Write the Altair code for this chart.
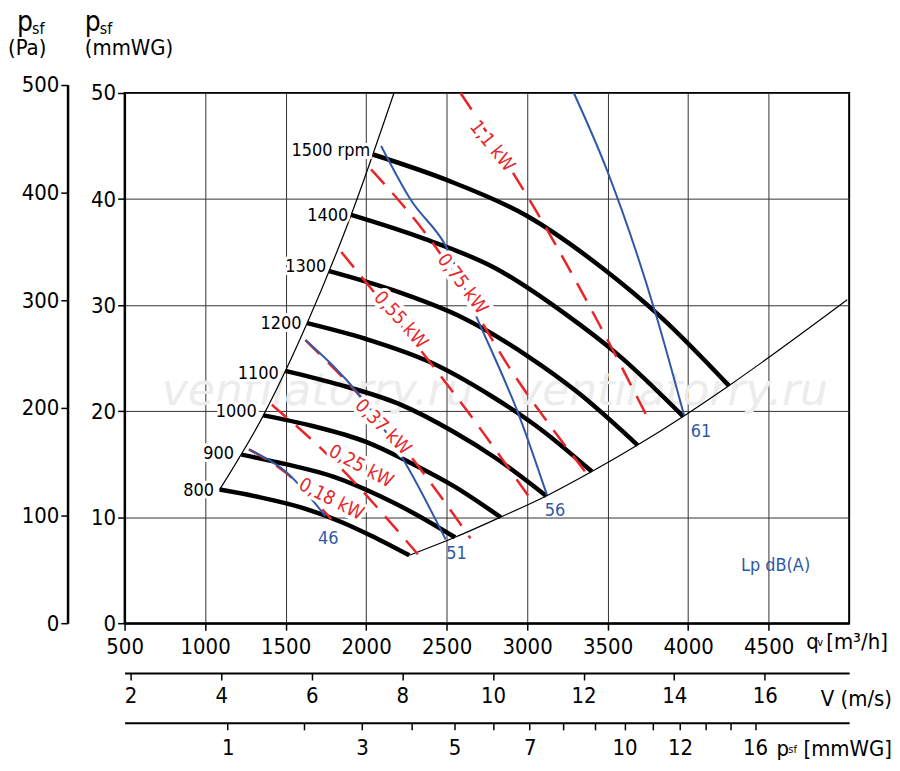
import altair as alt
import pandas as pd

FONT = "DejaVu Sans Condensed, Liberation Sans Narrow, sans-serif"
BLUE = "#2f58a8"
RED = "#e8262a"

# fan speed curves: flow q [m3/h] and static pressure p [mmWG]
rpm_labels = ["800", "900", "1000", "1100", "1200", "1300", "1400", "1500 rpm"]
rpm_q = [
    [1090, 1333, 1600, 1853, 2038, 2268],
    [1226, 1500, 1800, 2085, 2293, 2552],
    [1362, 1667, 2000, 2317, 2547, 2835],
    [1498, 1833, 2200, 2548, 2802, 3119],
    [1634, 2000, 2400, 2780, 3057, 3402],
    [1771, 2167, 2600, 3012, 3312, 3686],
    [1907, 2333, 2800, 3243, 3566, 3969],
    [2043, 2500, 3000, 3475, 3821, 4253],
]
rpm_p = [
    [12.6, 11.9, 10.9, 9.5, 8.2, 6.4],
    [15.9, 15.0, 13.8, 12.0, 10.4, 8.1],
    [19.6, 18.6, 17.1, 14.8, 12.9, 10.0],
    [23.8, 22.5, 20.7, 18.0, 15.6, 12.0],
    [28.3, 26.8, 24.6, 21.4, 18.6, 14.3],
    [33.2, 31.4, 28.8, 25.1, 21.8, 16.8],
    [38.5, 36.4, 33.5, 29.1, 25.3, 19.5],
    [44.2, 41.8, 38.4, 33.4, 29.0, 22.4],
]
rpm_label_q = [1056, 1179, 1321, 1457, 1599, 1753, 1889, 2025]
rpm_label_p = [12.5, 16.0, 19.9, 23.5, 28.2, 33.6, 38.4, 44.5]

# working range limits
left_q = [1090, 1362, 1634, 1907, 2173]
left_p = [12.6, 19.6, 28.3, 38.5, 50.0]
right_q = [2268, 2552, 2835, 3119, 3402, 3686, 3969, 4253, 4988]
right_p = [6.4, 8.1, 10.0, 12.0, 14.3, 16.8, 19.5, 22.4, 30.5]

# sound level lines Lp dB(A)
db_names = ["46", "51", "56", "61"]
db_q = [
    [1272, 1500, 1747],
    [1623, 1969, 2228, 2494],
    [2093, 2278, 2494, 2691, 2957, 3123],
    [3290, 3494, 3802, 3975],
]
db_p = [
    [16.4, 14.3, 10.1],
    [26.7, 21.3, 15.5, 7.9],
    [45.0, 39.9, 35.6, 28.7, 19.3, 12.1],
    [50.0, 42.8, 29.0, 19.6],
]
db_label_q = [1765, 2562, 3173, 4080]
db_label_p = [7.9, 6.5, 10.6, 18.0]

# motor power lines
kw_names = ["0,18 kW", "0,25 kW", "0,37 kW", "0,55 kW", "0,75 kW", "1,1 kW"]
kw_q = [
    [1272, 1500, 1784],
    [1414, 1753, 2321],
    [1623, 1969, 2278, 2648],
    [1846, 2648, 3031],
    [2031, 2426, 2920, 3370],
    [2586, 3000, 3451, 3741],
]
kw_p = [
    [16.4, 14.2, 9.8],
    [20.6, 16.0, 6.5],
    [26.7, 21.3, 15.7, 8.0],
    [35.0, 19.6, 11.5],
    [42.8, 35.6, 23.4, 14.1],
    [50.0, 40.3, 28.1, 19.6],
]
kw_label_q = [1784, 1969, 2105, 2216, 2599, 2784]
kw_label_p = [11.7, 14.8, 18.5, 28.6, 32.0, 45.0]
kw_label_angle = [27, 28, 45, 48, 53, 51]

q_ticks = [500, 1000, 1500, 2000, 2500, 3000, 3500, 4000, 4500]
mm_ticks = [0, 10, 20, 30, 40, 50]
pa_ticks = [0, 100, 200, 300, 400, 500]
v_ticks = [2, 4, 6, 8, 10, 12, 14, 16]
pd_ticks = [1, 2, 3, 4, 5, 6, 7, 8, 9, 10, 11, 12, 13, 14, 15]


def long(names, qs, ps):
    rows = []
    for n, qq, pp in zip(names, qs, ps):
        for i, (a, b) in enumerate(zip(qq, pp)):
            rows.append({"id": n, "q": a, "p": b, "i": i})
    return pd.DataFrame(rows)


xs = alt.Scale(domain=[500, 5000], nice=False)
ys = alt.Scale(domain=[0, 50], nice=False)
X = alt.X("q:Q", scale=xs, axis=alt.Axis(values=q_ticks, title=None, grid=True,
                                         labelPadding=6, format="d"))
Y = alt.Y("p:Q", scale=ys, axis=alt.Axis(values=mm_ticks, title=None, grid=True))


def lines(df, **kw):
    return alt.Chart(df).mark_line(**kw).encode(x=X, y=Y, detail="id:N", order="i:Q")


rpm = lines(long(rpm_labels, rpm_q, rpm_p), color="black", strokeWidth=4.5, interpolate="monotone")
bounds = lines(long(["l", "r"], [left_q, right_q], [left_p, right_p]),
               color="black", strokeWidth=1.2, interpolate="monotone")
db = lines(long(db_names, db_q, db_p), color=BLUE, strokeWidth=2, interpolate="monotone")
kw = lines(long(kw_names, kw_q, kw_p), color=RED, strokeWidth=2.5,
           strokeDash=[20, 12], interpolate="monotone")

rpm_df = pd.DataFrame({"t": rpm_labels, "q": rpm_label_q, "p": rpm_label_p})
rpm_txt_bg = alt.Chart(rpm_df).mark_text(align="right", fontSize=18, font=FONT, color="white",
                                         stroke="white", strokeWidth=6).encode(x=X, y=Y, text="t:N")
rpm_txt = alt.Chart(rpm_df).mark_text(align="right", fontSize=18, font=FONT,
                                      color="black").encode(x=X, y=Y, text="t:N")

db_df = pd.DataFrame({"t": db_names, "q": db_label_q, "p": db_label_p})
db_txt = alt.Chart(db_df).mark_text(fontSize=18, font=FONT, color=BLUE).encode(x=X, y=Y, text="t:N")

kw_df = pd.DataFrame({"t": kw_names, "q": kw_label_q, "p": kw_label_p, "a": kw_label_angle})
kw_bg = alt.Chart(kw_df).mark_text(fontSize=19, font=FONT, color="white", stroke="white",
                                   strokeWidth=7).encode(x=X, y=Y, text="t:N", angle=alt.Angle("a:Q", scale=None))
kw_txt = alt.Chart(kw_df).mark_text(fontSize=19, font=FONT, color=RED).encode(
    x=X, y=Y, text="t:N", angle=alt.Angle("a:Q", scale=None))

wm_df = pd.DataFrame({"t": ["ventilatorry.ru", "ventilatorry.ru"], "q": [1700, 3900], "p": [21.8, 21.8]})
wm = alt.Chart(wm_df).mark_text(fontSize=44, fontStyle="italic", font="DejaVu Sans",
                                color="#ececec").encode(x=X, y=Y, text="t:N")

lp = alt.Chart(pd.DataFrame({"t": ["Lp dB(A)"], "q": [4543], "p": [5.4]})).mark_text(
    fontSize=18, font=FONT, color=BLUE).encode(x=X, y=Y, text="t:N")


def label(t, x, y, size=22, align="left"):
    return alt.Chart(pd.DataFrame({"t": [t]})).mark_text(
        fontSize=size, font=FONT, align=align, baseline="alphabetic", color="black"
    ).encode(x=alt.value(x), y=alt.value(y), text="t:N")


titles = [
    label("p", -108, -62, 28), label("sf", -93, -59, 16), label("(Pa)", -117, -38, 22),
    label("p", -40, -62, 28), label("sf", -25, -59, 16), label("(mmWG)", -40, -38, 22),
    label("q", 684, 558, 22), label("v", 695, 555, 11), label("[m³/h]", 704, 558),
    label("V (m/s)", 770, 615, 22, "right"),
    label("p", 654, 665, 22), label("sf", 666, 662, 11), label("[mmWG]", 770, 665, 22, "right"),
]

# vertical line of the Pa axis
pa_line = alt.Chart(pd.DataFrame({"a": [0]})).mark_rule(color="black", strokeWidth=2).encode(
    x=alt.value(-57), y=alt.value(-8), y2=alt.value(532))

main = alt.layer(wm, bounds, rpm, kw, db, kw_bg, kw_txt, rpm_txt_bg, rpm_txt, db_txt, lp,
                 pa_line, *titles)

# secondary axes
v_q = [281.4 * v - 26 for v in v_ticks]
v_layer = alt.Chart(pd.DataFrame({"q": v_q})).mark_point(opacity=0).encode(
    x=alt.X("q:Q", scale=xs, axis=alt.Axis(
        orient="bottom", offset=50, values=v_q, title=None, grid=False, labelPadding=6,
        labelExpr="format(round((datum.value + 26) / 281.4), 'd')")))

pd_q = [1140 * t ** 0.5 for t in pd_ticks]
pd_layer = alt.Chart(pd.DataFrame({"q": pd_q})).mark_point(opacity=0).encode(
    x=alt.X("q:Q", scale=xs, axis=alt.Axis(
        orient="bottom", offset=100, values=pd_q, title=None, grid=False, labelPadding=8,
        labelExpr="round(pow(datum.value / 1140, 2)) == 15 ? '16' : "
                  "(indexof([1, 3, 5, 7, 10, 12], round(pow(datum.value / 1140, 2))) >= 0 ? "
                  "'' + round(pow(datum.value / 1140, 2)) : '')")))

pa_layer = alt.Chart(pd.DataFrame({"pa": pa_ticks})).mark_point(opacity=0).encode(
    y=alt.Y("pa:Q", scale=alt.Scale(domain=[0, 500], range=[532, -8], nice=False), axis=alt.Axis(
        orient="left", offset=57, values=pa_ticks, title=None, grid=False)))

chart = alt.layer(main, v_layer, pd_layer, pa_layer).resolve_scale(
    x="independent", y="independent"
).properties(width=727, height=532, padding={"top": 0, "left": 0, "right": 0, "bottom": 0}).configure_view(
    stroke="black", strokeWidth=2
).configure_axis(
    labelFont=FONT, labelFontSize=22, labelColor="black", tickColor="black",
    domainColor="black", domainWidth=2, tickSize=7, tickWidth=1.5,
    gridColor="#333333", gridWidth=1, labelFlush=False
)

chart.save("out.html", embed_options={"renderer": "svg", "actions": False})
